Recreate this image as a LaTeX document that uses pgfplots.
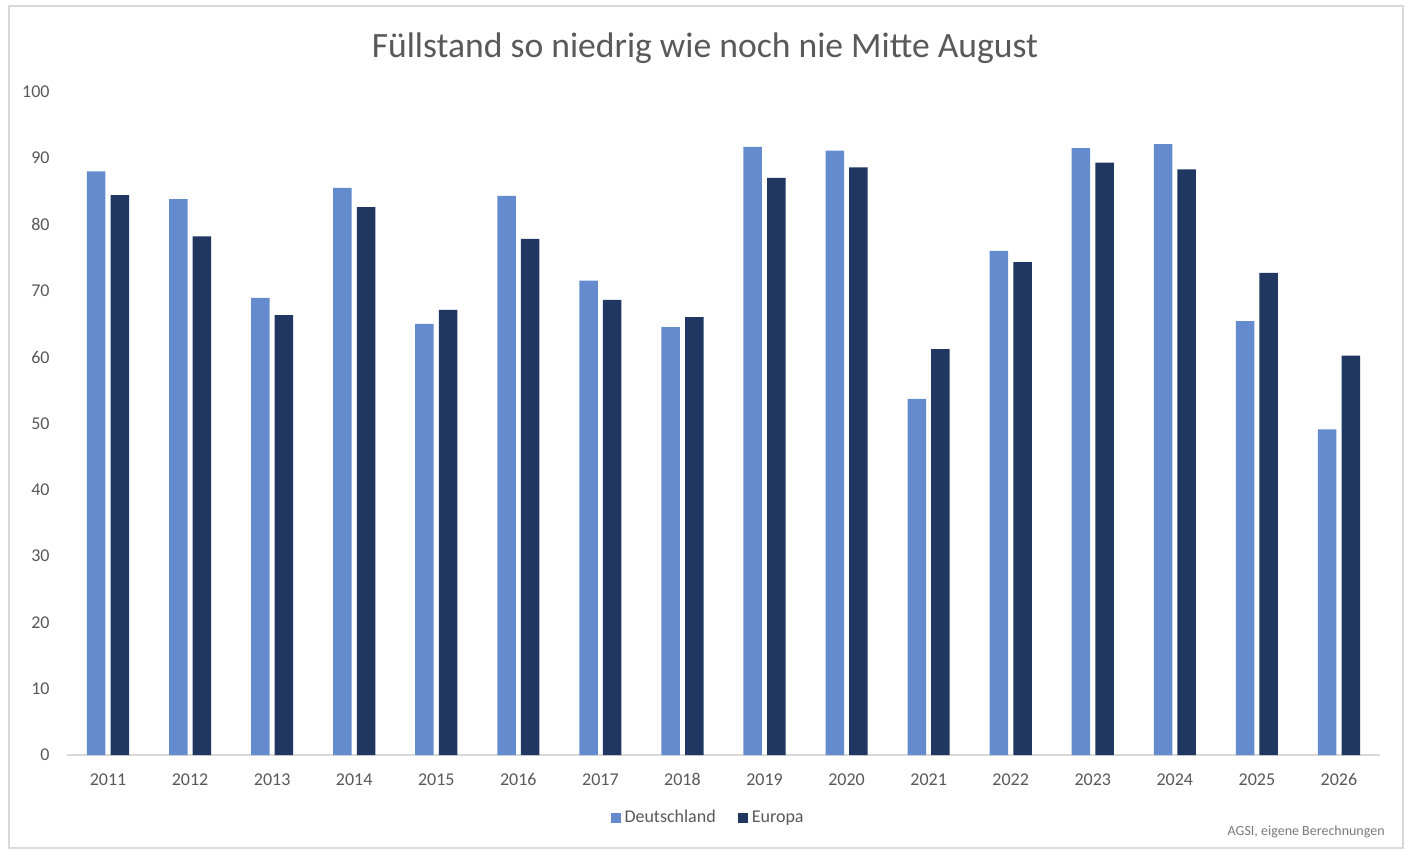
\documentclass[border=0pt]{standalone}
\usepackage{pgfplots}
\pgfplotsset{compat=1.18}
\usepackage{fontspec}
\setmainfont{Carlito}
\definecolor{deu}{HTML}{658BCF}
\definecolor{eur}{HTML}{1F3761}
\definecolor{txt}{HTML}{595959}
\definecolor{ln}{HTML}{D9D9D9}
\begin{document}
\begin{tikzpicture}[x=1pt,y=1pt]
\fill[white] (0,0) rectangle (705,426);
\draw[ln, line width=0.8pt] (4.5,2) rectangle (701.5,423);
\node[anchor=base, text=txt, font=\fontsize{17.8}{20}\selectfont] at (352.5,397) {Füllstand so niedrig wie noch nie Mitte August};
\node[anchor=base east, text=txt!80, font=\fontsize{7}{8}\selectfont, inner sep=0pt] at (692.5,8) {AGSI, eigene Berechnungen};
\begin{axis}[
  at={(33.5pt,48.5pt)}, anchor=south west,
  width=656.5pt, height=331.65pt, scale only axis,
  xmin=-0.5, xmax=15.5, ymin=0, ymax=100,
  ybar, bar width=9.25pt,
  xtick={0,...,15},
  xticklabels={2011,2012,2013,2014,2015,2016,2017,2018,2019,2020,2021,2022,2023,2024,2025,2026},
  ytick={0,10,...,100},
  major tick length=0pt,
  axis x line*=bottom, axis y line*=left,
  x axis line style={draw=ln, line width=0.8pt},
  y axis line style={draw=none},
  tick label style={text=txt, font=\fontsize{9}{10}\selectfont},
  xticklabel style={anchor=base, yshift=-15pt, inner sep=0pt},
  yticklabel style={anchor=east, inner sep=0pt, xshift=-8.5pt},
  /pgf/number format/assume math mode=true,
  legend style={at={(axis description cs:0.489,-0.095)}, anchor=center, draw=none, fill=none,
    font=\fontsize{9}{10}\selectfont, text=txt, legend columns=-1,
    /tikz/every even column/.append style={column sep=9pt},
    nodes={inner sep=2pt}},
  legend image code/.code={\fill[#1] (0pt,-2.5pt) rectangle (5pt,2.5pt);},
]
\addplot[fill=deu, draw=none, bar shift=-5.9pt] coordinates {
(0,88.0) (1,83.8) (2,68.9) (3,85.5) (4,65.0) (5,84.3) (6,71.5) (7,64.5)
(8,91.7) (9,91.1) (10,53.7) (11,76.0) (12,91.5) (13,92.1) (14,65.4) (15,49.1)};
\addplot[fill=eur, draw=none, bar shift=5.9pt] coordinates {
(0,84.4) (1,78.2) (2,66.3) (3,82.6) (4,67.1) (5,77.8) (6,68.6) (7,66.0)
(8,87.0) (9,88.6) (10,61.2) (11,74.3) (12,89.3) (13,88.3) (14,72.7) (15,60.2)};
\legend{Deutschland, Europa}
\end{axis}
\end{tikzpicture}
\end{document}
